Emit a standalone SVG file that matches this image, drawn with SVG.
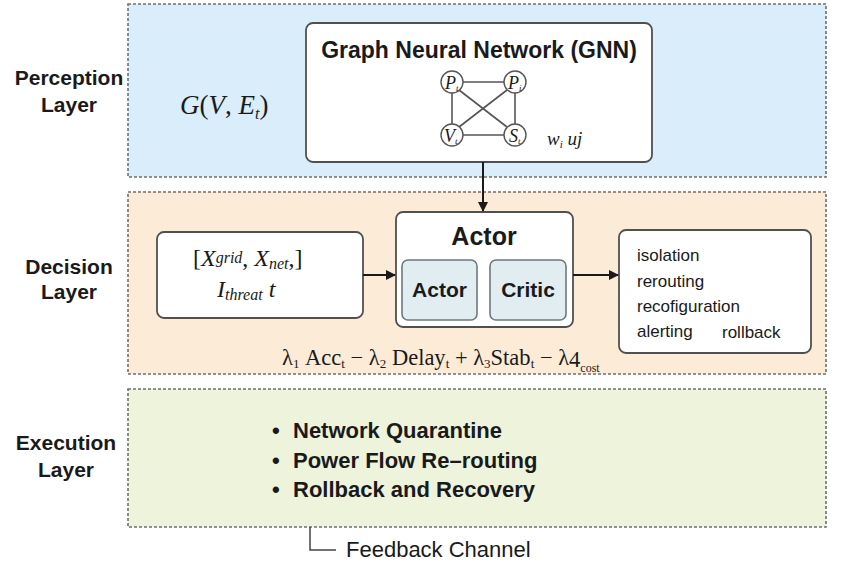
<svg xmlns="http://www.w3.org/2000/svg" width="844" height="567" viewBox="0 0 844 567">
<defs>
<style>
.panel{stroke:#6f6f6f;stroke-width:1.6;stroke-dasharray:3 2}
.box{fill:#ffffff;stroke:#505050;stroke-width:1.8}
.inner{fill:#e1edf1;stroke:#6a7a80;stroke-width:1.6}
.lbl{font-family:"Liberation Sans",Arial,sans-serif;font-weight:bold;font-size:21px;fill:#1a1a1a;text-anchor:middle}
.bold{font-family:"Liberation Sans",Arial,sans-serif;font-weight:bold;fill:#1a1a1a}
.reg{font-family:"Liberation Sans",Arial,sans-serif;fill:#1a1a1a}
.math{font-family:"Liberation Serif","Times New Roman",serif;fill:#1a1a1a}
.edge{stroke:#555;stroke-width:1.6;fill:none}
.node{fill:#fff;stroke:#555;stroke-width:1.4}
.conn{stroke:#1a1a1a;stroke-width:2;fill:none}
</style>
<marker id="arr" markerWidth="10" markerHeight="10" refX="9" refY="5" orient="auto" markerUnits="userSpaceOnUse">
<path d="M0,0 L10,5 L0,10 z" fill="#1a1a1a"/>
</marker>
</defs>
<rect width="844" height="567" fill="#ffffff"/>

<g id="perception-layer">
<rect class="panel" x="128" y="4" width="698" height="173" fill="#d9edfa"/>
<text class="lbl" x="69" y="85">Perception</text>
<text class="lbl" x="69" y="112">Layer</text>
<text class="math" x="180" y="114" font-size="27" font-style="italic">G<tspan font-style="normal">(</tspan>V<tspan font-style="normal">, </tspan>E<tspan font-size="16" dy="5">t</tspan><tspan font-style="normal" dy="-5">)</tspan></text>
</g>

<g id="gnn">
<rect class="box" x="306" y="23" width="346" height="139" rx="7"/>
<text class="bold" x="479" y="58" font-size="23" text-anchor="middle">Graph Neural Network (GNN)</text>
<g id="gnn-graph">
<line class="edge" x1="462" y1="82" x2="504" y2="82"/>
<line class="edge" x1="462" y1="135" x2="504" y2="135"/>
<line class="edge" x1="452" y1="93" x2="452" y2="124"/>
<line class="edge" x1="515" y1="93" x2="515" y2="124"/>
<line class="edge" x1="459" y1="90" x2="507" y2="127"/>
<line class="edge" x1="507" y1="90" x2="459" y2="127"/>
<circle class="node" cx="452" cy="82" r="11"/>
<circle class="node" cx="515" cy="82" r="11"/>
<circle class="node" cx="452" cy="135" r="11"/>
<circle class="node" cx="515" cy="135" r="11"/>
<text class="math" x="445" y="89" font-size="18" font-style="italic">P<tspan font-size="9" dy="2">t</tspan></text>
<text class="math" x="508" y="89" font-size="18" font-style="italic">P<tspan font-size="9" dy="2">i</tspan></text>
<text class="math" x="444" y="142" font-size="18" font-style="italic">V<tspan font-size="9" dy="2">t</tspan></text>
<text class="math" x="509" y="142" font-size="18" font-style="italic">S<tspan font-size="9" dy="2">t</tspan></text>
</g>
<text class="math" x="547" y="145" font-size="19" font-style="italic">w<tspan font-size="11" dy="3">i</tspan><tspan dy="-3"> uj</tspan></text>
</g>

<g id="decision-layer">
<rect class="panel" x="128" y="192" width="698" height="182" fill="#fcebd6"/>
<text class="lbl" x="69" y="274">Decision</text>
<text class="lbl" x="69" y="299">Layer</text>
<text class="math" x="282" y="365" font-size="22.5">λ<tspan font-size="13" dy="3">1</tspan><tspan dy="-3"> Acc</tspan><tspan font-size="13" dy="3">t</tspan><tspan dy="-3"> − λ</tspan><tspan font-size="13" dy="3">2</tspan><tspan dy="-3"> Delay</tspan><tspan font-size="13" dy="3">t</tspan><tspan dy="-3"> + λ</tspan><tspan font-size="13" dy="3">3</tspan><tspan dy="-3">Stab</tspan><tspan font-size="13" dy="3">t</tspan><tspan dy="-3"> − λ</tspan><tspan dy="2">4</tspan><tspan font-size="12" dy="5">cost</tspan></text>
</g>

<g id="state-input">
<rect class="box" x="157" y="232" width="206" height="86" rx="7"/>
<text class="math" x="193" y="266" font-size="24">[<tspan font-style="italic">X</tspan><tspan font-style="italic" font-size="16" dy="-3">grid</tspan><tspan dy="3">, </tspan><tspan font-style="italic">X</tspan><tspan font-style="italic" font-size="16" dy="3">net</tspan><tspan dy="-3">,]</tspan></text>
<text class="math" x="217" y="297" font-size="24" font-style="italic">I<tspan font-size="16" dy="3">threat</tspan><tspan dy="-3"> t</tspan></text>
</g>

<g id="actor-critic">
<rect class="box" x="396" y="212" width="177" height="115" rx="7"/>
<text class="bold" x="484" y="245" font-size="25" text-anchor="middle">Actor</text>
<g id="actor">
<rect class="inner" x="402" y="260" width="75" height="60" rx="6"/>
<text class="bold" x="439.5" y="297" font-size="21" text-anchor="middle">Actor</text>
</g>
<g id="critic">
<rect class="inner" x="490" y="260" width="76" height="60" rx="6"/>
<text class="bold" x="528" y="297" font-size="21" text-anchor="middle">Critic</text>
</g>
</g>

<g id="actions">
<rect class="box" x="619" y="230" width="192" height="123" rx="7"/>
<text class="reg" x="637" y="261" font-size="17">isolation</text>
<text class="reg" x="637" y="287" font-size="17">rerouting</text>
<text class="reg" x="637" y="312" font-size="17">recofiguration</text>
<text class="reg" x="637" y="337" font-size="17">alerting</text>
<text class="reg" x="722" y="338" font-size="17">rollback</text>
</g>

<g id="execution-layer">
<rect class="panel" x="128" y="389" width="698" height="138" fill="#eef3dc"/>
<text class="lbl" x="66" y="450">Execution</text>
<text class="lbl" x="66" y="477">Layer</text>
<text class="bold" x="272" y="438" font-size="22">•</text>
<text class="bold" x="293" y="438" font-size="22">Network Quarantine</text>
<text class="bold" x="272" y="468" font-size="22">•</text>
<text class="bold" x="293" y="468" font-size="22">Power Flow Re–routing</text>
<text class="bold" x="272" y="497" font-size="22">•</text>
<text class="bold" x="293" y="497" font-size="22">Rollback and Recovery</text>
</g>

<g id="feedback-channel">
<text class="reg" x="346" y="557" font-size="22">Feedback Channel</text>
</g>

<g id="connectors">
<line class="conn" x1="483" y1="162" x2="483" y2="211" marker-end="url(#arr)"/>
<line class="conn" x1="363" y1="275" x2="395" y2="275" marker-end="url(#arr)"/>
<line class="conn" x1="573" y1="275" x2="618" y2="275" marker-end="url(#arr)"/>
<path d="M310,527 V550 H336" stroke="#444" stroke-width="1.5" fill="none"/>
</g>
</svg>
